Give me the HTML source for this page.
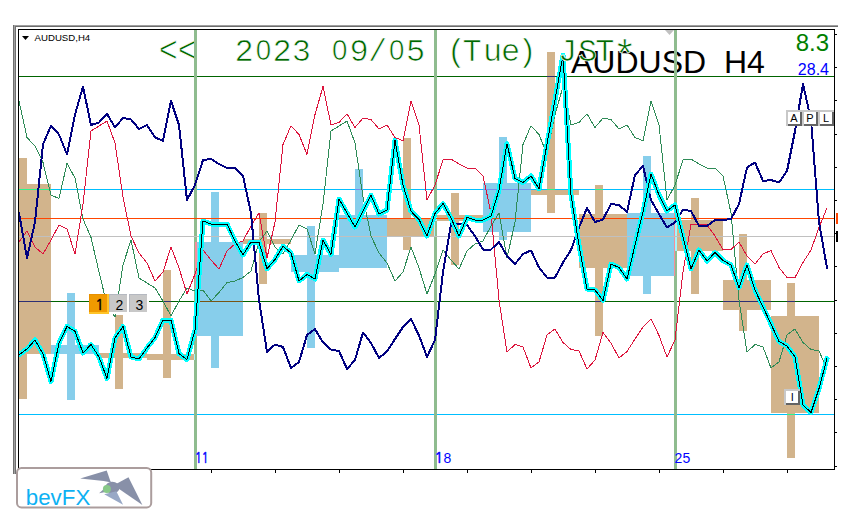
<!DOCTYPE html>
<html><head><meta charset="utf-8"><style>
html,body{margin:0;padding:0;background:#fff;width:857px;height:520px;overflow:hidden}
svg{position:absolute;left:0;top:0;display:block}
.t{font-family:"Liberation Sans",Arial,sans-serif}
.m{font-family:"Liberation Mono","Courier New",monospace}
</style></head><body>
<svg width="857" height="520" viewBox="0 0 857 520">
<rect x="0" y="0" width="857" height="520" fill="#fff"/>
<defs><clipPath id="cc"><rect x="19" y="30" width="815" height="439"/></clipPath></defs>
<!-- window frame -->
<g shape-rendering="crispEdges">
<rect x="13" y="25" width="825" height="1" fill="#a0a0a0"/>
<rect x="13" y="26" width="825" height="1" fill="#6c6c6c"/>
<rect x="13" y="25" width="1" height="449" fill="#707070"/>
<rect x="14" y="25" width="1" height="449" fill="#a0a0a0"/>
<rect x="15" y="26" width="1" height="448" fill="#707070"/>
</g>
<g shape-rendering="crispEdges">
<rect x="19" y="184" width="32" height="170" fill="#d2b48c"/>
<rect x="19" y="158" width="8" height="241" fill="#d2b48c"/>
<rect x="51" y="345" width="48" height="9" fill="#87ceeb"/>
<rect x="67" y="293" width="8" height="107" fill="#87ceeb"/>
<rect x="99" y="353" width="48" height="5" fill="#d2b48c"/>
<rect x="115" y="315" width="8" height="74" fill="#d2b48c"/>
<rect x="147" y="354" width="48" height="6" fill="#d2b48c"/>
<rect x="163" y="270" width="8" height="108" fill="#d2b48c"/>
<rect x="195" y="242" width="48" height="94" fill="#87ceeb"/>
<rect x="211" y="192" width="8" height="176" fill="#87ceeb"/>
<rect x="243" y="239" width="48" height="5" fill="#d2b48c"/>
<rect x="259" y="213" width="8" height="71" fill="#d2b48c"/>
<rect x="291" y="255" width="48" height="17" fill="#87ceeb"/>
<rect x="307" y="226" width="8" height="122" fill="#87ceeb"/>
<rect x="339" y="215" width="48" height="53" fill="#87ceeb"/>
<rect x="355" y="169" width="8" height="99" fill="#87ceeb"/>
<rect x="387" y="218" width="48" height="18" fill="#d2b48c"/>
<rect x="403" y="138" width="8" height="112" fill="#d2b48c"/>
<rect x="435" y="215" width="48" height="6" fill="#d2b48c"/>
<rect x="451" y="193" width="8" height="72" fill="#d2b48c"/>
<rect x="483" y="183" width="48" height="49" fill="#87ceeb"/>
<rect x="499" y="137" width="8" height="103" fill="#87ceeb"/>
<rect x="531" y="190" width="48" height="5" fill="#d2b48c"/>
<rect x="547" y="52" width="8" height="161" fill="#d2b48c"/>
<rect x="579" y="214" width="48" height="54" fill="#d2b48c"/>
<rect x="595" y="185" width="8" height="151" fill="#d2b48c"/>
<rect x="627" y="213" width="48" height="63" fill="#87ceeb"/>
<rect x="643" y="156" width="8" height="138" fill="#87ceeb"/>
<rect x="675" y="220" width="48" height="31" fill="#d2b48c"/>
<rect x="691" y="198" width="8" height="96" fill="#d2b48c"/>
<rect x="723" y="280" width="48" height="30" fill="#d2b48c"/>
<rect x="739" y="234" width="8" height="97" fill="#d2b48c"/>
<rect x="771" y="316" width="48" height="97" fill="#d2b48c"/>
<rect x="787" y="283" width="8" height="175" fill="#d2b48c"/>
<rect x="19" y="76" width="815" height="1" fill="#006400"/>
<rect x="547" y="76" width="8" height="1" fill="#2d2f73"/>
<rect x="19" y="301" width="815" height="1" fill="#006400"/>
<rect x="19" y="301" width="32" height="1" fill="#2d2f73"/>
<rect x="19" y="301" width="8" height="1" fill="#2d2f73"/>
<rect x="67" y="301" width="8" height="1" fill="#785514"/>
<rect x="163" y="301" width="8" height="1" fill="#2d2f73"/>
<rect x="195" y="301" width="48" height="1" fill="#785514"/>
<rect x="211" y="301" width="8" height="1" fill="#785514"/>
<rect x="307" y="301" width="8" height="1" fill="#785514"/>
<rect x="595" y="301" width="8" height="1" fill="#2d2f73"/>
<rect x="723" y="301" width="48" height="1" fill="#2d2f73"/>
<rect x="739" y="301" width="8" height="1" fill="#2d2f73"/>
<rect x="787" y="301" width="8" height="1" fill="#2d2f73"/>
<rect x="19" y="189" width="815" height="1" fill="#00bfff"/>
<rect x="19" y="189" width="32" height="1" fill="#2df48c"/>
<rect x="19" y="189" width="8" height="1" fill="#2df48c"/>
<rect x="355" y="189" width="8" height="1" fill="#788eeb"/>
<rect x="403" y="189" width="8" height="1" fill="#2df48c"/>
<rect x="483" y="189" width="48" height="1" fill="#788eeb"/>
<rect x="499" y="189" width="8" height="1" fill="#788eeb"/>
<rect x="547" y="189" width="8" height="1" fill="#2df48c"/>
<rect x="595" y="189" width="8" height="1" fill="#2df48c"/>
<rect x="643" y="189" width="8" height="1" fill="#788eeb"/>
<rect x="19" y="414" width="815" height="1" fill="#00bfff"/>
<rect x="787" y="414" width="8" height="1" fill="#2df48c"/>
<rect x="194" y="30" width="3" height="439" fill="#8fbc8f"/>
<rect x="194" y="354" width="1" height="6" fill="#a2f7fc"/>
<rect x="195" y="242" width="2" height="94" fill="#f78d9b"/>
<rect x="434" y="30" width="3" height="439" fill="#8fbc8f"/>
<rect x="434" y="218" width="1" height="18" fill="#a2f7fc"/>
<rect x="435" y="215" width="2" height="6" fill="#a2f7fc"/>
<rect x="674" y="30" width="3" height="439" fill="#8fbc8f"/>
<rect x="674" y="213" width="1" height="63" fill="#f78d9b"/>
<rect x="675" y="220" width="2" height="31" fill="#a2f7fc"/>
<rect x="19" y="218" width="815" height="1" fill="#ff4500"/>
<rect x="19" y="236" width="815" height="1" fill="#c0c0c0"/>

</g>
<g fill="none" stroke-linejoin="round" stroke-linecap="round" stroke-linejoin="round" stroke-linecap="round" shape-rendering="crispEdges" clip-path="url(#cc)">
<polyline points="19,101 19,101 27,137.5 35,146 43,162.5 51,195 59,198.5 67,163.5 75,178 83,219 91,237.5 99,272 107,305 115,317 123,265 131,240 139,278 147,283 155,288 163,301 171,316 179,301 187,288 195,291 203,290 211,301 219,292.5 227,282.5 235,281 243,277.5 251,271 259,242 267,231 275,247 283,254 291,240 299,225 307,229 315,254 323,204 331,131 339,126 347,121 355,143 363,197 371,236 379,253 387,263 395,281 403,272 411,247 419,268 427,294 435,274 443,250 451,260 459,269 467,251 475,244 483,241 491,226 499,213 507,258 515,222 523,144.5 531,125.75 539,134.5 547,154.5 555,114.5 563,86.5 571,125 579,122.5 587,113.75 595,127.5 603,118 611,119.5 619,129 627,125 635,137.5 643,140.75 651,100.75 659,125 667,200 675,185 683,160 691,159 699,164 707,168 715,168 723,176 731,213 739,300 747,352 755,344.5 763,347 771,368 779,362 787,335 795,329 803,342.5 811,349.5 819,351 827,369" stroke="#2e8b57" stroke-width="1"/>
<polyline points="19,242 19,242 27,231 35,247 43,254 51,240 59,225 67,229 75,254 83,204 91,131 99,126 107,121 115,143 123,197 131,236 139,253 147,263 155,281 163,272 171,247 179,268 187,294 195,274 203,250 211,260 219,269 227,251 235,244 243,241 251,226 259,213 267,258 275,222 283,144.5 291,125.75 299,134.5 307,154.5 315,114.5 323,86.5 331,125 339,122.5 347,113.75 355,127.5 363,118 371,119.5 379,129 387,125 395,137.5 403,140.75 411,100.75 419,125 427,200 435,185 443,160 451,159 459,164 467,168 475,168 483,176 491,213 499,300 507,352 515,344.5 523,347 531,368 539,362 547,335 555,329 563,342.5 571,349.5 579,351 587,369 595,360 603,332.5 611,343 619,358 627,351.5 635,339 643,327 651,319 659,335.5 667,357 675,340 683,272 691,224 699,224 707,225 715,236 723,249.5 731,249.5 739,242 747,256 755,264 763,254 771,250.5 779,267.5 787,277.5 795,277.5 803,262.5 811,250 819,227.5 827,208" stroke="#dc143c" stroke-width="1"/>
<polyline points="19,213 19,213 27,258 35,222 43,144.5 51,125.75 59,134.5 67,154.5 75,114.5 83,86.5 91,125 99,122.5 107,113.75 115,127.5 123,118 131,119.5 139,129 147,125 155,137.5 163,140.75 171,100.75 179,125 187,200 195,185 203,160 211,159 219,164 227,168 235,168 243,176 251,213 259,300 267,352 275,344.5 283,347 291,368 299,362 307,335 315,329 323,342.5 331,349.5 339,351 347,369 355,360 363,332.5 371,343 379,358 387,351.5 395,339 403,327 411,319 419,335.5 427,357 435,340 443,272 451,224 459,224 467,225 475,236 483,249.5 491,249.5 499,242 507,256 515,264 523,254 531,250.5 539,267.5 547,277.5 555,277.5 563,262.5 571,250 579,227.5 587,208 595,222 603,219.5 611,204 619,205 627,212 635,175 643,166 651,200 659,214 667,227.5 675,222.5 683,209.5 691,211 699,226 707,226 715,220 723,220 731,219 739,204 747,167.5 755,162.5 763,181 771,180 779,182.5 787,171 795,131 803,84 811,120 819,222 827,268" stroke="#000080" stroke-width="2"/>
<polyline points="19,355 19,355 27,349 35,340 43,354 51,381.5 59,343 67,326.5 75,331.25 83,353 91,344.5 99,357 107,378.5 115,338 123,326.5 131,357 139,359 147,348 155,337.5 163,320 171,320 179,353.5 187,359.5 195,330 203,221 211,224 219,224 227,224 235,241 243,255 251,242 259,242.5 267,268.75 275,259.5 283,246.25 291,253 299,281 307,274.5 315,279 323,240 331,254.5 339,199 347,213 355,227 363,211 371,195.3 379,214 387,210 395,140.5 403,185 411,211.25 419,219.5 427,236 435,213.5 443,203.5 451,218 459,236 467,217.5 475,220 483,220 491,216.25 499,190 507,143.75 515,178.5 523,182.5 531,176 539,188.75 547,144 555,100 563,55 571,195 579,245 587,289 595,290 603,300.5 611,264 619,267.5 627,279 635,245 643,212 651,174 659,195 667,211 675,205 683,237 691,269 699,250 707,261 715,252.5 723,260.5 731,265 739,287.5 747,265 755,290 763,307 771,324 779,341.5 787,346 795,357 803,405 811,412.5 819,388.5 827,358.5" stroke="#00ffff" stroke-width="5"/>
<polyline points="19,355 19,355 27,349 35,340 43,354 51,381.5 59,343 67,326.5 75,331.25 83,353 91,344.5 99,357 107,378.5 115,338 123,326.5 131,357 139,359 147,348 155,337.5 163,320 171,320 179,353.5 187,359.5 195,330 203,221 211,224 219,224 227,224 235,241 243,255 251,242 259,242.5 267,268.75 275,259.5 283,246.25 291,253 299,281 307,274.5 315,279 323,240 331,254.5 339,199 347,213 355,227 363,211 371,195.3 379,214 387,210 395,140.5 403,185 411,211.25 419,219.5 427,236 435,213.5 443,203.5 451,218 459,236 467,217.5 475,220 483,220 491,216.25 499,190 507,143.75 515,178.5 523,182.5 531,176 539,188.75 547,144 555,100 563,55 571,195 579,245 587,289 595,290 603,300.5 611,264 619,267.5 627,279 635,245 643,212 651,174 659,195 667,211 675,205 683,237 691,269 699,250 707,261 715,252.5 723,260.5 731,265 739,287.5 747,265 755,290 763,307 771,324 779,341.5 787,346 795,357 803,405 811,412.5 819,388.5 827,358.5" stroke="#000000" stroke-width="1"/>
</g>
<!-- chart border -->
<g shape-rendering="crispEdges">
<rect x="18" y="29" width="817" height="1" fill="#000"/>
<rect x="18" y="29" width="1" height="441" fill="#000"/>
<rect x="834" y="29" width="1" height="441" fill="#000"/>
<rect x="18" y="469" width="817" height="1" fill="#000"/>
<rect x="835" y="34" width="2" height="1" fill="#000"/><rect x="835" y="67" width="2" height="1" fill="#000"/><rect x="835" y="100" width="2" height="1" fill="#000"/><rect x="835" y="134" width="2" height="1" fill="#000"/><rect x="835" y="167" width="2" height="1" fill="#000"/><rect x="835" y="200" width="2" height="1" fill="#000"/><rect x="835" y="233" width="2" height="1" fill="#000"/><rect x="835" y="266" width="2" height="1" fill="#000"/><rect x="835" y="300" width="2" height="1" fill="#000"/><rect x="835" y="333" width="2" height="1" fill="#000"/><rect x="835" y="366" width="2" height="1" fill="#000"/><rect x="835" y="399" width="2" height="1" fill="#000"/><rect x="835" y="432" width="2" height="1" fill="#000"/><rect x="835" y="466" width="2" height="1" fill="#000"/>
<rect x="19" y="470" width="1" height="3" fill="#000"/><rect x="83" y="470" width="1" height="3" fill="#000"/><rect x="147" y="470" width="1" height="3" fill="#000"/><rect x="211" y="470" width="1" height="3" fill="#000"/><rect x="275" y="470" width="1" height="3" fill="#000"/><rect x="339" y="470" width="1" height="3" fill="#000"/><rect x="403" y="470" width="1" height="3" fill="#000"/><rect x="467" y="470" width="1" height="3" fill="#000"/><rect x="531" y="470" width="1" height="3" fill="#000"/><rect x="595" y="470" width="1" height="3" fill="#000"/><rect x="659" y="470" width="1" height="3" fill="#000"/><rect x="723" y="470" width="1" height="3" fill="#000"/><rect x="787" y="470" width="1" height="3" fill="#000"/>
<rect x="836" y="213" width="2" height="11" fill="#ff4500"/>
<rect x="836" y="231" width="2" height="11" fill="#000"/>
</g>
<!-- labels -->
<polygon points="22,36 29,36 25.5,40" fill="#000"/>
<polygon points="665,30 674,30 669.5,35" fill="#c0c0c0"/>
<text class="t" x="34.6" y="40.9" font-size="9.7" fill="#000" textLength="55.6" lengthAdjust="spacingAndGlyphs">AUDUSD,H4</text>
<text class="t" x="571" y="73" font-size="32" fill="#000" xml:space="preserve">AUDUSD  H4</text>
<g fill="#006800" stroke="#fff" stroke-width="0.7"><text class="m" x="158.8" y="60.5" font-size="32" transform="translate(0,50.5) scale(1,1.17) translate(0,-50.5)">&lt;</text><text class="m" x="177.7" y="60.5" font-size="32" transform="translate(0,50.5) scale(1,1.17) translate(0,-50.5)">&lt;</text><text class="m" x="234.6" y="60.5" font-size="32">2</text><text class="t" x="255.8" y="59.9" font-size="30.3" textLength="15.4" lengthAdjust="spacingAndGlyphs">0</text><text class="m" x="272.5" y="60.5" font-size="32">2</text><text class="m" x="291.8" y="60.5" font-size="32">3</text><text class="t" x="332.0" y="59.9" font-size="30.3" textLength="15.4" lengthAdjust="spacingAndGlyphs">0</text><text class="m" x="349.6" y="60.5" font-size="32">9</text><text class="m" x="368.0" y="60.5" font-size="32">/</text><text class="t" x="389.0" y="59.9" font-size="30.3" textLength="15.4" lengthAdjust="spacingAndGlyphs">0</text><text class="m" x="406.0" y="60.5" font-size="32">5</text><text class="m" x="446.8" y="60.5" font-size="32">(</text><text class="m" x="462.5" y="60.5" font-size="32">T</text><text class="m" x="483.0" y="60.5" font-size="32">u</text><text class="m" x="501.0" y="60.5" font-size="32">e</text><text class="m" x="517.4" y="60.5" font-size="32">)</text><text class="m" x="558.0" y="60.5" font-size="32">J</text><text class="m" x="578.0" y="60.5" font-size="32">S</text><text class="m" x="595.3" y="60.5" font-size="32">T</text><text class="m" x="612.8" y="69" font-size="40">*</text></g>
<g shape-rendering="crispEdges" fill="#8fbc8f"><rect x="194" y="30" width="3" height="47"/><rect x="434" y="30" width="3" height="47"/><rect x="674" y="30" width="3" height="47"/></g>
<text class="t" x="829" y="51" font-size="24" fill="#008000" text-anchor="end">8.3</text>
<text class="t" x="829" y="75" font-size="16" fill="#0000ff" text-anchor="end">28.4</text>
<text x="195" y="463.3" font-size="14.5" fill="#0000ff" stroke="#0000ff" stroke-width="0.55" font-family="NanumGothic, Liberation Sans, sans-serif" textLength="13.6" lengthAdjust="spacingAndGlyphs">11</text>
<!-- 1 2 3 buttons -->
<g shape-rendering="crispEdges">
<rect x="89" y="294" width="20" height="20" fill="#ffc428"/>
<rect x="89" y="294" width="18" height="18" fill="#e89000"/>
<rect x="90" y="295" width="17" height="17" fill="#f09a00"/>
<rect x="109" y="294" width="20" height="20" fill="#ffffff"/>
<rect x="109" y="294" width="18" height="18" fill="#b4b8c0"/>
<rect x="110" y="295" width="17" height="17" fill="#c8c8c8"/>
<rect x="129" y="294" width="20" height="20" fill="#ffffff"/>
<rect x="129" y="294" width="18" height="18" fill="#b4b8c0"/>
<rect x="130" y="295" width="17" height="17" fill="#c8c8c8"/>
</g>
<text x="99.6" y="310.2" font-size="14.5" fill="#000" stroke="#000" stroke-width="0.5" text-anchor="middle" font-family="NanumGothic, Liberation Sans, sans-serif">1</text>
<text class="t" x="119.5" y="310" font-size="14" fill="#000" text-anchor="middle">2</text>
<text class="t" x="139.5" y="310" font-size="14" fill="#000" text-anchor="middle">3</text>
<!-- A P L / I buttons -->
<g shape-rendering="crispEdges">
<rect x="786" y="110" width="16" height="16" fill="#c8c8c8"/><rect x="788" y="112" width="14" height="14" fill="#646464"/><rect x="788" y="112" width="12" height="12" fill="#fff"/>
<rect x="802" y="110" width="16" height="16" fill="#c8c8c8"/><rect x="804" y="112" width="14" height="14" fill="#646464"/><rect x="804" y="112" width="12" height="12" fill="#fff"/>
<rect x="818" y="110" width="16" height="16" fill="#c8c8c8"/><rect x="820" y="112" width="14" height="14" fill="#646464"/><rect x="820" y="112" width="12" height="12" fill="#fff"/>
<rect x="784" y="389" width="16" height="16" fill="#c8c8c8"/><rect x="786" y="391" width="14" height="14" fill="#646464"/><rect x="786" y="391" width="12" height="12" fill="#fff"/>
</g>
<text class="t" x="794" y="122" font-size="11" fill="#000" text-anchor="middle">A</text>
<text class="t" x="810" y="122" font-size="11" fill="#000" text-anchor="middle">P</text>
<text class="t" x="826" y="122" font-size="11" fill="#000" text-anchor="middle">L</text>
<text class="t" x="792.3" y="401" font-size="11" fill="#000020" text-anchor="middle">I</text>
<!-- logo -->
<rect x="17" y="468" width="134.2" height="39.4" rx="4.5" ry="4.5" fill="#fff" stroke="#ab9d9d" stroke-width="2"/>
<text class="t" x="25.8" y="504.6" font-size="22.5" fill="#0db1f3" textLength="64.5" lengthAdjust="spacingAndGlyphs">bevFX</text>
<polygon points="80.2,478.4 106.7,470.6 110.5,481.5 114,483 103.7,481.1" fill="#8890a8"/>
<polygon points="116.5,483.8 128.5,477.3 142.4,505.1 118.4,488.6" fill="#8890a8"/>
<ellipse cx="112.3" cy="487.6" rx="7.2" ry="5.9" fill="#8890a8"/>
<polygon points="104.2,494.2 116.3,491.2 123.1,504.7" fill="#98a8c6"/>
<polygon points="99.1,493.3 104.2,488.7 105.4,492.1" fill="#8890a8"/>
<circle cx="106.9" cy="488.9" r="4" fill="#88c888"/>
<text class="t" x="434.6" y="463.3" font-size="14" fill="#0000ff"><tspan font-family="NanumGothic, Liberation Sans, sans-serif" font-size="14.5" stroke="#0000ff" stroke-width="0.55">1</tspan>8</text>
<text class="t" x="674.6" y="463.3" font-size="14" fill="#0000ff">25</text>
</svg>
</body></html>
